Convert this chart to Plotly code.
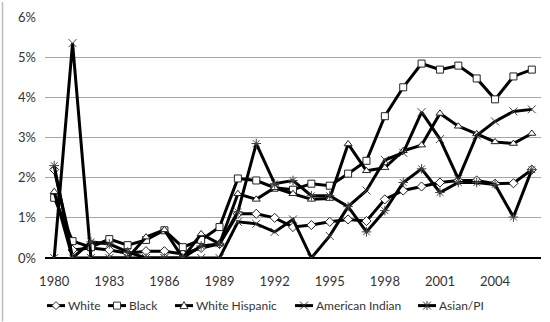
import plotly.graph_objects as go

years = list(range(1980, 2007))
tick_years = [1980, 1983, 1986, 1989, 1992, 1995, 1998, 2001, 2004]

white = [2.2, 0.2, 0.25, 0.2, 0.12, 0.17, 0.17, 0.1, 0.25, 0.35, 1.1, 1.1, 1.0, 0.77, 0.82, 0.9, 0.96, 0.92,
         1.46, 1.68, 1.78, 1.88, 1.93, 1.93, 1.85, 1.86, 2.2]
black = [1.5, 0.42, 0.27, 0.47, 0.32, 0.45, 0.69, 0.27, 0.45, 0.77, 1.98, 1.93, 1.75, 1.7, 1.85, 1.8, 2.1, 2.42,
         3.53, 4.25, 4.84, 4.69, 4.79, 4.47, 3.95, 4.52, 4.69]
white_hispanic = [1.65, 0, 0, 0, 0, 0.52, 0.7, 0, 0.6, 0.35, 1.6, 1.46, 1.75, 1.6, 1.46, 1.48, 2.84, 2.17,
                  2.25, 2.67, 2.81, 3.6, 3.28, 3.09, 2.89, 2.85, 3.1]
american_indian = [0, 5.35, 0, 0, 0, 0, 0, 0, 0, 0, 0.9, 0.85, 0.65, 0.96, 0, 0.55, 1.28, 1.68,
                   2.44, 2.62, 3.63, 2.96, 1.97, 3.05, 3.4, 3.65, 3.7]
asian_pi = [2.3, 0, 0.4, 0.35, 0.15, 0, 0, 0, 0.3, 0.35, 1.15, 2.85, 1.85, 1.93, 1.55, 1.55, 1.28, 0.65,
            1.18, 1.88, 2.22, 1.63, 1.88, 1.88, 1.83, 1.02, 2.2]

names = ["White", "Black", "White Hispanic", "American Indian", "Asian/PI"]
values = [white, black, white_hispanic, american_indian, asian_pi]
symbols = ["diamond", "square", "triangle-up", "x-thin", "asterisk"]

FONT = "Lato"
TXT = "#333333"

fig = go.Figure()
for name, vals, sym in zip(names, values, symbols):
    thin = sym in ("x-thin", "asterisk")
    fig.add_trace(go.Scatter(
        x=years, y=vals, name=name, mode="lines+markers", showlegend=False,
        line=dict(color="black", width=3),
        marker=dict(symbol=sym, size=7 if not thin else 8,
                    color="white" if not thin else "#444",
                    line=dict(color="#222" if not thin else "#444", width=1)),
    ))

# ---- custom legend (layout decoration, pixel-based) ----
L, PW, T, PH = 45, 496, 15, 243
def px2x(px):
    return (px - L) / PW
def py2y(py):
    return (T + PH - py) / PH

leg_y_px = 306
leg_centers = [56, 117, 184, 304, 427]
leg_text_x = [66, 127, 194, 314, 437]
marker_paths = {
    "diamond": "M0,-4 L4,0 L0,4 L-4,0 Z",
    "square": "M-3.5,-3.5 L3.5,-3.5 L3.5,3.5 L-3.5,3.5 Z",
    "triangle-up": "M-4,-3 L4,-3 L0,4 Z",
    "x-thin": "M-4,-4 L4,4 M-4,4 L4,-4",
    "asterisk": "M-4,-4 L4,4 M-4,4 L4,-4 M0,-4.5 L0,4.5",
}
shapes = [dict(type="line", xref="paper", yref="paper", x0=px2x(2.5), x1=px2x(2.5), y0=py2y(322), y1=py2y(0),
               line=dict(color="#bdbdbd", width=1.5))]
annotations = []
for name, sym, cx, tx in zip(names, symbols, leg_centers, leg_text_x):
    xa, ya = px2x(cx), py2y(leg_y_px)
    shapes.append(dict(type="path", xref="paper", yref="paper", xsizemode="pixel", ysizemode="pixel",
                       xanchor=xa, yanchor=ya, path="M-9,0 L9,0", line=dict(color="black", width=3)))
    thin = sym in ("x-thin", "asterisk")
    shapes.append(dict(type="path", xref="paper", yref="paper", xsizemode="pixel", ysizemode="pixel",
                       xanchor=xa, yanchor=ya, path=marker_paths[sym],
                       fillcolor=None if thin else "white",
                       line=dict(color="#333", width=1)))
    annotations.append(dict(text=name, xref="paper", yref="paper", x=px2x(tx), y=ya,
                            xanchor="left", yanchor="middle", showarrow=False,
                            font=dict(family=FONT, size=12, color=TXT)))

fig.update_layout(
    width=550, height=322,
    margin=dict(l=45, r=9, t=15, b=64),
    paper_bgcolor="white", plot_bgcolor="white",
    font=dict(family=FONT, size=12, color=TXT),
    showlegend=False,
    xaxis=dict(range=[1979.5, 2006.5], tickvals=tick_years, ticktext=[str(y) for y in tick_years],
               showgrid=False, zeroline=False, showline=False, ticks="", ticklabelstandoff=14,
               tickfont=dict(family=FONT, size=13, color=TXT)),
    yaxis=dict(range=[0, 6], dtick=1, ticksuffix="%", showgrid=True, gridcolor="#a6a6a6", gridwidth=1,
               zeroline=True, zerolinecolor="black", zerolinewidth=1.5, showline=False, ticks="",
               ticklabelstandoff=8,
               tickfont=dict(family=FONT, size=13, color=TXT)),
    shapes=shapes,
    annotations=annotations,
)

fig.write_html("out.html", config={"displayModeBar": False},
               post_script="document.body.style.margin='0';document.body.style.overflow='hidden';")
